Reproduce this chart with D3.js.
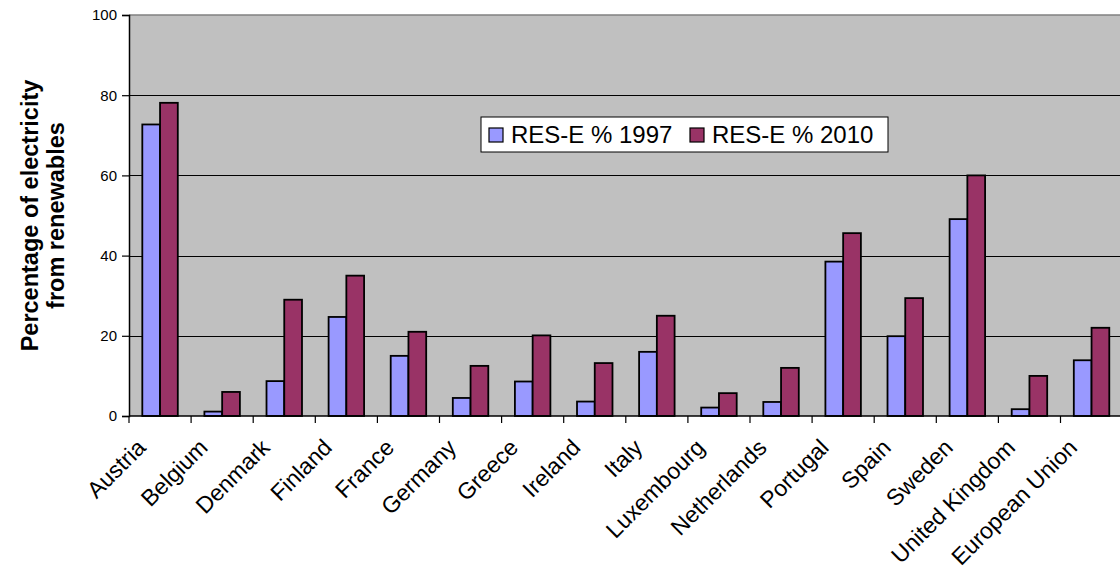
<!DOCTYPE html>
<html>
<head>
<meta charset="utf-8">
<script src="https://cdn.jsdelivr.net/npm/d3@7"></script>
<style>
  html, body { margin: 0; padding: 0; background: #fff; }
  svg { display: block; font-family: Arial, "Liberation Sans", sans-serif; }
</style>
</head>
<body>
<svg id="chart" width="1120" height="576"></svg>
<script>
// Share of electricity produced from renewable sources (RES-E), by country
const countries = ["Austria", "Belgium", "Denmark", "Finland", "France", "Germany", "Greece",
  "Ireland", "Italy", "Luxembourg", "Netherlands", "Portugal", "Spain", "Sweden",
  "United Kingdom", "European Union"];
const res1997 = [72.7, 1.1, 8.7, 24.7, 15.0, 4.5, 8.6, 3.6, 16.0, 2.1, 3.5, 38.5, 19.9, 49.1, 1.7, 13.9];
const res2010 = [78.1, 6.0, 29.0, 35.0, 21.0, 12.5, 20.1, 13.2, 25.0, 5.7, 12.0, 45.6, 29.4, 60.0, 10.0, 22.0];
const seriesNames = ["RES-E % 1997", "RES-E % 2010"];
const yTicks = [0, 20, 40, 60, 80, 100];
const yTitle = ["Percentage of electricity", "from renewables"];

const colors = ["#9999FF", "#993366"];
const svg = d3.select("#chart");

const plotLeft = 129, plotRight = 1122.6, plotTop = 15, plotBottom = 416;

const x0 = d3.scaleBand().domain(countries).range([plotLeft, plotRight]).paddingInner(0).paddingOuter(0);
const x1 = d3.scaleBand().domain([0, 1]).range([0, x0.bandwidth()]).paddingInner(0).paddingOuter(0.75);
const y = d3.scaleLinear().domain([0, 100]).range([plotBottom, plotTop]);

// plot area
svg.append("rect")
  .attr("x", plotLeft).attr("y", plotTop)
  .attr("width", plotRight - plotLeft).attr("height", plotBottom - plotTop)
  .attr("fill", "#C0C0C0");

// top border of plot area
svg.append("line")
  .attr("x1", plotLeft).attr("x2", plotRight)
  .attr("y1", y(100)).attr("y2", y(100))
  .attr("stroke", "#808080").attr("stroke-width", 1.5);

// horizontal gridlines
svg.append("g").selectAll("line")
  .data(yTicks.filter(t => t > 0 && t < 100))
  .join("line")
  .attr("x1", plotLeft).attr("x2", plotRight)
  .attr("y1", d => Math.round(y(d)) + 0.5).attr("y2", d => Math.round(y(d)) + 0.5)
  .attr("stroke", "#000").attr("stroke-width", 1);

// bars
const rows = countries.map((c, i) => ({ c, v: [res1997[i], res2010[i]] }));
const groups = svg.append("g").selectAll("g")
  .data(rows)
  .join("g")
  .attr("transform", d => `translate(${x0(d.c)},0)`);

groups.selectAll("rect")
  .data(d => d.v.map((v, k) => ({ v, k })))
  .join("rect")
  .attr("x", d => x1(d.k))
  .attr("y", d => y(d.v))
  .attr("width", x1.bandwidth())
  .attr("height", d => y(0) - y(d.v))
  .attr("fill", d => colors[d.k])
  .attr("stroke", "#000")
  .attr("stroke-width", 1.8);

// y axis
const yAxis = svg.append("g")
  .attr("transform", `translate(${plotLeft},0)`)
  .call(d3.axisLeft(y).tickValues(yTicks).tickSize(7).tickPadding(5));
yAxis.select(".domain").attr("stroke", "#000").attr("stroke-width", 1.5);
yAxis.selectAll(".tick line").attr("stroke", "#000").attr("stroke-width", 1.2);
yAxis.selectAll(".tick text")
  .attr("font-size", 15).attr("fill", "#000")
  .attr("font-family", "Arial, 'Liberation Sans', sans-serif");

// x axis line and category boundary ticks
svg.append("line")
  .attr("x1", plotLeft).attr("x2", plotRight)
  .attr("y1", plotBottom).attr("y2", plotBottom)
  .attr("stroke", "#000").attr("stroke-width", 1.5);
const bounds = countries.map(c => x0(c)).concat([plotRight]);
svg.append("g").selectAll("line")
  .data(bounds)
  .join("line")
  .attr("x1", d => d).attr("x2", d => d)
  .attr("y1", plotBottom).attr("y2", plotBottom + 7)
  .attr("stroke", "#000").attr("stroke-width", 1.2);

// rotated category labels
const xAxis = svg.append("g")
  .attr("transform", `translate(0,${plotBottom})`)
  .call(d3.axisBottom(x0).tickSize(0).tickPadding(0));
xAxis.select(".domain").remove();
xAxis.selectAll(".tick text")
  .attr("font-size", 23).attr("fill", "#000")
  .attr("font-family", "Arial, 'Liberation Sans', sans-serif")
  .attr("text-anchor", "end")
  .attr("dy", null)
  .attr("y", 0)
  .attr("transform", "translate(-13,33) rotate(-45)");

// y axis title
const title = svg.append("text")
  .attr("transform", `translate(0,${(plotTop + plotBottom) / 2}) rotate(-90)`)
  .attr("text-anchor", "middle")
  .attr("font-size", 23.5)
  .attr("font-weight", "bold")
  .attr("fill", "#000");
title.selectAll("tspan")
  .data(yTitle)
  .join("tspan")
  .attr("x", 0)
  .attr("y", (d, i) => i === 0 ? 38 : 64)
  .text(d => d);

// legend
const legend = svg.append("g").attr("transform", "translate(481,117)");
legend.append("rect")
  .attr("width", 407).attr("height", 35)
  .attr("fill", "#fff").attr("stroke", "#000").attr("stroke-width", 1);
const itemX = [8, 209];
const items = legend.selectAll("g.item")
  .data(seriesNames)
  .join("g")
  .attr("class", "item")
  .attr("transform", (d, i) => `translate(${itemX[i]},0)`);
items.append("rect")
  .attr("x", 0).attr("y", 11)
  .attr("width", 14).attr("height", 14)
  .attr("fill", (d, i) => colors[i])
  .attr("stroke", "#000").attr("stroke-width", 1.2);
items.append("text")
  .attr("x", 22).attr("y", 26)
  .attr("font-size", 24)
  .attr("fill", "#000")
  .text(d => d);
</script>
</body>
</html>
